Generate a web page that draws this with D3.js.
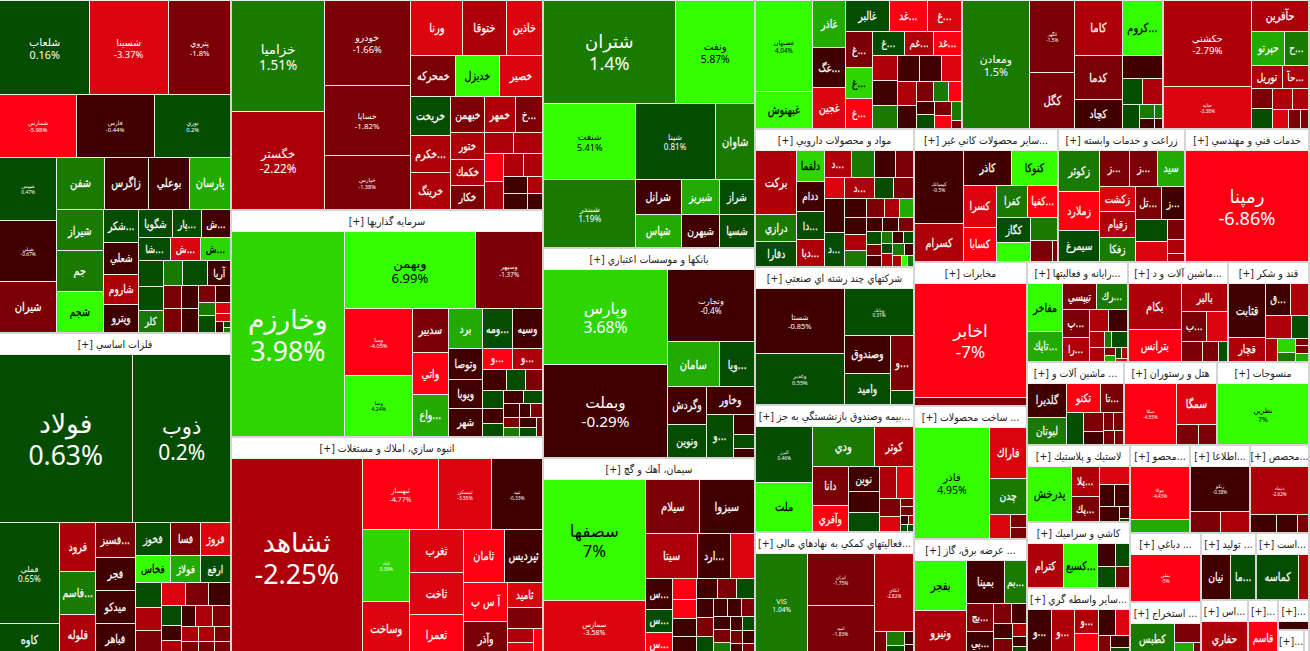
<!DOCTYPE html>
<html lang="fa">
<head>
<meta charset="utf-8">
<title>نقشه بازار</title>
<script src="https://cdn.jsdelivr.net/npm/d3@7/dist/d3.min.js"></script>
<style>
  html, body { margin: 0; padding: 0; width: 1310px; height: 651px; overflow: hidden; background: #d4d4d4; }
  svg { display: block; position: absolute; left: -1px; top: -21px; }
  text { font-family: "DejaVu Sans", sans-serif; }
  text.pct { font-family: "Noto Sans", "DejaVu Sans", sans-serif; }
</style>
</head>
<body>
<script>
// Market map of the exchange: one block per industry, one tile per symbol.
// Tile area follows market weight, tile colour follows the daily change in percent.

const chemNames = ['شلعاب','شسينا','پتروي','شمارس','فارس','نوري','شيپس','شپلي','شيران','شفن','زاگرس','بوعلي','پارسان','شيراز','جم','شجم','شكر...','شعلي','شاروم','ويترو','شگويا','پار...','ش...','شا...','ش...','ش...','','','كلر','','','آريا'];
const chemChanges = [0.16,-3.37,-1.8,-5.98,-0.44,0.2,0.47,-0.67,-1.5,1.5,-0.5,-0.5,2.5,1.5,1.5,4.5,0.5,-0.5,-2.5,-0.5,0.5,0.5,-0.5,0.5,-3.5,3.5,0.5,0.5,1.5,1.5,0.5,-0.5,-1.5,-1.5,-0.5,-0.5,-1.5,-0.5,1.5,0.5,-3.5,-3.5,-0.5,0.5,1.5];
const chemCaps = [8460,7332,5828,4851,4851,4788,3534,3477,2907,2448,2193,2091,2091,1932,1886,1886,1190,1120,1050,980,952,812,812,736,690,690,624,576,528,480,600,576,432,432,408,408,272,256,224,272,160,128,80,40,40];

const metalNames = ['فولاد','ذوب','فملي','كاوه','فرود','فاسم...','فلوله','فسبز...','فجر','ميدكو','فباهر','فخوز','فسا','فروژ','فخاس','فولاژ','ارفع'];
const metalChanges = [0.63,0.2,0.65,0.5,-2.5,1.5,-2.5,-1.5,-0.5,-0.5,-0.5,0.5,-1.5,-3.5,4.5,2.5,0.5,0.5,-2.5,-1.5,-3.5,-1.5,-0.5,0.5,-0.5,-2.5,-0.5,-2.5,-1.5,-2.5,-1.5,-2.5,-1.5,-1.5,-1.5];
const metalCaps = [22000,16350,6000,1900,1770,1560,1490,1404,1287,1287,1250,1155,1000,1000,910,806,780,675,600,650,552,528,506,396,288,288,288,374,374,240,240,225,225,225,225];

const autoNames = ['خزاميا','خگستر','خودرو','خساپا','خپارس','ورنا','ختوقا','خاذين','خمحركه','خديزل','خصير','خريخت','خكرم...','خرينگ','خبهمن','خمهر','خ...','ختور','خكمك','خكار'];
const autoChanges = [1.51,-2.22,-1.66,-1.82,-1.38,-3.5,-2.5,-3.5,-1.5,4.5,-3.5,0.5,-2.5,-2.5,-1.5,-2.5,-1.5,-2.5,-2.5,-1.5,-2.5,-2.5,-4.5,-2.5,-2.5,-2.5,-0.5,-0.5,-2.5,-0.5];
const autoCaps = [10323,9114,7225,5950,4590,2915,2420,1980,1840,1760,1720,1560,1480,1480,1260,1116,972,918,884,800,600,580,551,551,456,432,408,384,255,240];

const investNames = ['وخارزم','وبهمن','وسپهر','وسا','وصا','سدبير','واتي','واع...','برد','ومه...','وسپه','وتوصا','ويوبا','شهر','و...','و...'];
const investChanges = [3.98,6.99,-1.37,-4.05,4.24,-1.5,-4.5,2.5,2.5,0.5,-0.5,-0.5,-0.5,-0.5,-4.5,-2.5,-0.5,0.5,-1.5,0.5,-0.5,0.5,-0.5,0.5,-0.5,-1.5,1.5,-0.5,-1.5,-0.5,0.5,-1.5];
const investCaps = [22755,9900,5100,4554,4092,1540,1505,1470,1360,1200,1200,1020,986,952,594,594,486,399,361,380,308,280,252,234,216,154,143,154,182,156,154,110];

const buildNames = ['ثشاهد','ثبهساز','ثمسكن','ثنيد','ثاباد','وساخت','ثغرب','ثاخت','ثعمرا','ثامان','ثپرديس','آ س پ','وآذر','ثاميد'];
const buildChanges = [-2.25,-4.77,-3.55,-0.33,3.39,-3.5,-3.5,-3.5,-4.5,-4.5,-0.5,-4.5,-1.5,-3.5,-1.5,-2.5,-3.5,-4.5];
const buildCaps = [25542,5396,3763,3621,3384,2538,2268,2268,2200,2120,2000,1716,1496,864,720,351,330,242];

const oilNames = ['شتران','ونفت','شنفت','شبندر','شپنا','شاوان','شرانل','شپاس','شبريز','شبهرن','شراز','شسپا'];
const oilChanges = [1.4,5.87,5.41,1.19,0.81,1.5,-0.5,2.5,2.5,-0.5,0.5,0.5];
const oilCaps = [13362,8058,6992,6164,5925,2950,1575,1485,1330,1254,1200,1150];

const bankNames = ['وپارس','وبملت','وتجارت','سامان','ويا...','وگردش','ونوين','وخاور','و...'];
const bankChanges = [3.68,-0.29,-0.4,2.5,0.5,-0.5,0.5,-0.5,0.5,-0.5,0.5,-0.5];
const bankCaps = [11685,11400,6160,2346,1610,1443,1287,1296,1144,418,286,198];

const cementNames = ['سصفها','سمازس','سيلام','سبزوا','سيتا','ارد...','','س...','س...','س...'];
const cementChanges = [7,-3.58,-1.5,-0.5,-2.5,-0.5,-3.5,-0.5,0.5,-4.5,-4.5,-4.5,-0.5,-0.5,-0.5,-1.5,0.5,-0.5,-1.5,0.5,-0.5,-0.5,-1.5,-0.5,-1.5,1.5,-0.5,0.5,-1.5,-0.5,-0.5,-1.5];
const cementCaps = [12078,5445,2912,2900,2288,1452,1056,832,598,624,483,437,437,437,399,380,342,320,320,320,252,252,234,210,210,210,168,168,156,156,140,140];

const foodNames = ['غصبهان','غبهنوش','غاذر','غگ...','غجين','غالبر','غد...','غ...','غ...','غ...','غ...','غ...','غم...','غد...'];
const foodChanges = [4.04,4.5,2.5,-0.5,-3.5,0.5,-4.5,-3.5,-1.5,3.5,-4.5,0.5,-2.5,-4.5,-2.5,-0.5,1.5,-0.5,-0.5,-3.5,-2.5,-0.5,-1.5,1.5,-4.5,-0.5,0.5,-1.5,-4.5,1.5,-1.5];
const foodCaps = [5005,2035,1518,1320,1320,1330,1140,1026,950,806,780,728,667,638,609,609,560,540,540,506,437,414,342,288,266,224,234,234,209,192,80];

const miningNames = ['ومعادن','كگهر','كگل','كاما','كروم...','كدما','كچاد'];
const miningChanges = [1.5,-1.5,-1.5,-2.5,4.5,-1.5,-0.5,-0.5,0.5,-2.5,0.5,1.5,1.5,-0.5,-0.5];
const miningCaps = [8385,3240,2520,2592,2160,2070,1334,902,520,520,400,208,104,160,80];

const transportNames = ['حكشتي','حتايد','حآفرين','حپرتو','ح...','توريل','حآ...'];
const transportChanges = [-2.79,-3.38,-2.5,2.5,1.5,-2.5,-2.5,-1.5,0.5,-2.5,-2.5,-3.5,-1.5,-1.5];
const transportCaps = [7482,3612,1740,1122,792,713,598,420,420,400,340,285,228,152];

const pharmaNames = ['بركت','درازي','دفارا','دلقما','ددام','دا...','دبا...','د...','','','','','','د...','د...'];
const pharmaChanges = [-2.5,1.5,0.5,3.5,-0.5,0.5,-2.5,-2.5,1.5,-0.5,-1.5,-3.5,-0.5,0.5,-2.5,0.5,-1.5,-0.5,-0.5,-2.5,1.5,-1.5,-2.5,2.5,-0.5,-0.5,-1.5,0.5,-1.5,-0.5,1.5,-0.5,0.5,0.5,-2.5,1.5,-0.5,-2.5,4.5,1.5];
const pharmaCaps = [2418,1053,936,780,754,728,676,667,598,506,460,368,609,609,580,378,378,378,336,336,320,315,272,240,208,195,182,182,156,156,130,130,110,100,130,130,90,90,60,60];

const multiNames = ['شستا','وغدير','وبانك','وصندوق','واميد','و...'];
const multiChanges = [-0.85,0.55,0.31,-0.5,0.5,-1.5,0.5];
const multiCaps = [5568,4437,3174,1665,1395,1242,322];

const insureNames = ['البرز','ملت','ودي','كوثر','دانا','وآفري','نوين'];
const insureChanges = [0.46,4.5,1.5,-2.5,-1.5,-4.5,-0.5,-0.5,0.5,-2.5,-3.5,-1.5,-3.5,-1.5,-1.5,-0.5,-2.5,0.5,0.5];
const insureCaps = [3025,2640,2318,1482,1292,884,720,600,540,522,493,378,294,104,104,70,50,40,40];

const financeNames = ['VIS','ايران','اميد','اتكاي'];
const financeChanges = [1.04,-1.75,-1.83,-2.82,-1.5,1.5,0.5,-0.5,-0.5];
const financeCaps = [5253,3366,3300,3003,286,224,176,120,100];

const mineralNames = ['كيمياتك','كسرام','كاذر','كنوكا','كسرا','كسابا','كفرا','كفپا...','كگاز'];
const mineralChanges = [-0.5,-2.5,-0.5,4.5,-3.5,-4.5,1.5,-4.5,0.5,4.5,1.5,-1.5,-1.5];
const mineralCaps = [3337,1739,1584,1518,1271,1023,930,900,792,627,567,420,105];

const agriNames = ['زكوثر','زملارد','سيمرغ','ز...','ز...','سيد','زكشت','زقيام','زفكا','تل...','ز...'];
const agriChanges = [1.5,-4.5,0.5,-1.5,-1.5,2.5,-3.5,-2.5,1.5,-1.5,-0.5,0.5,-3.5,-1.5,-2.5,-2.5];
const agriCaps = [1600,1520,1200,986,952,900,875,875,805,800,736,672,608,320,208,128];

const techNames = ['رمپنا'];
const techChanges = [-6.86];
const techCaps = [13068];

const telecomNames = ['اخابر'];
const telecomChanges = [-7,-1.5];
const telecomCaps = [12432,888];

const productNames = ['فاذر','فاراك','چدن'];
const productChanges = [4.95,-3.5,1.5,-3.5,-1.5,-1.5];
const productCaps = [8030,1850,1295,483,192,176];

const powerNames = ['بفجر','ونيرو','بمپنا','بم...','بج...','بي...'];
const powerChanges = [4.5,-2.5,-0.5,1.5,-1.5,-0.5,-1.5,-0.5,-0.5,-1.5,-2.5,-0.5,0.5];
const powerCaps = [2450,2250,1558,902,700,625,340,272,272,300,165,135,120];

const computerNames = ['مفاخر','تاپك...','تيپسي','رك...','پ...','را...'];
const computerChanges = [4.5,2.5,-1.5,1.5,-1.5,-2.5,-2.5,-0.5,-2.5,-2.5,1.5,0.5,-1.5,2.5,0.5,-2.5,-3.5];
const computerCaps = [1632,1020,850,775,700,600,400,380,240,195,120,256,80,72,64,60,30];

const electricNames = ['بكام','بترانس','بالبر','ب...'];
const electricChanges = [-2.5,-4.5,-2.5,-1.5,-3.5,-1.5,-1.5,0.5];
const electricCaps = [2295,1632,1260,720,600,400,300,180];

const sugarNames = ['قثابت','قچار','ق...'];
const sugarChanges = [-0.5,-2.5,-0.5,-2.5,-2.5,0.5,-2.5,3.5,1.5,-1.5,-1.5,2.5];
const sugarCaps = [1890,840,744,527,550,374,264,238,153,96,96,96];

const machineNames = ['گلديرا','لبوتان','تكنو','تا...'];
const machineChanges = [-0.5,1.5,-4.5,-1.5,0.5,-1.5,-0.5,-1.5,-1.5,-1.5,-1.5];
const machineCaps = [1224,972,918,621,494,338,240,180,160,144,112];

const hotelNames = ['سكا','سمگا'];
const hotelChanges = [-4.55,-3.5,-1.5,-1.5];
const hotelCaps = [3100,1600,420,360];

const textileNames = ['نطرين'];
const textileChanges = [7];
const textileCaps = [5612];

const rubberNames = ['پدرخش','پلا...','پك...'];
const rubberChanges = [4.5,-2.5,-1.5,-3.5,-0.5,-0.5,-0.5,-0.5,0.5];
const rubberCaps = [2226,754,624,496,315,300,266,110,30];

const tileWareNames = ['كترام','كسبع...'];
const tileWareChanges = [-2.5,4.5,-0.5,0.5,0.5,-1.5];
const tileWareCaps = [1496,1452,400,304,350,266];

const brokerNames = ['و...','و...','و...'];
const brokerChanges = [-0.5,-2.5,-2.5,-4.5,-0.5,-3.5,-1.5,-0.5,0.5];
const brokerCaps = [1058,966,552,506,400,350,231,210,147];

const woodNames = ['چوكا'];
const woodChanges = [-4.43,2.5];
const woodCaps = [3068,767];

const infoNames = ['رتكو'];
const infoChanges = [-0.38,-1.5,-2.5];
const infoCaps = [2494,609,588];

const specialNames = ['دتماد'];
const specialChanges = [-2.62,-0.5,-0.5,-1.5];
const specialCaps = [2530,432,342,180];

const leatherNames = ['بملي'];
const leatherChanges = [-5];
const leatherCaps = [2992];

const quarryNames = ['كطبس'];
const quarryChanges = [1.5,-1.5,2.5,-1.5];
const quarryCaps = [1344,475,234,91];

const makerNames = ['نيان','ما...'];
const makerChanges = [-0.5,0.5];
const makerCaps = [1204,1075];

const estateNames = ['كماسه'];
const estateChanges = [0.5,-2.5];
const estateCaps = [1677,387];

const drillNames = ['حفاري'];
const drillChanges = [-2.5];
const drillCaps = [1452];

const copperNames = ['قاسم'];
const copperChanges = [-4.5];
const copperCaps = [891];

const sectorTitles = [
  'محصولات شيميايي [+]','فلزات اساسي [+]','خودرو و ساخت قطعات [+]','سرمايه گذاريها [+]','انبوه سازي، املاك و مستغلات [+]',
  'فراورده هاي نفتي [+]','بانكها و موسسات اعتباري [+]','سيمان، آهك و گچ [+]','محصولات غذايي [+]','استخراج كانه هاي فلزي [+]',
  'حمل و نقل [+]','مواد و محصولات دارويي [+]','شركتهاي چند رشته اي صنعتي [+]','...بيمه وصندوق بازنشستگي به جز [+]','...فعاليتهاي كمكي به نهادهاي مالي [+]',
  '...ساير محصولات كاني غير [+]','زراعت و خدمات وابسته [+]','خدمات فني و مهندسي [+]','مخابرات [+]','... ساخت محصولات [+]',
  '... عرضه برق، گاز [+]','...رايانه و فعاليتها [+]','...ماشين آلات و د [+]','قند و شكر [+]','... ماشين آلات و [+]',
  'هتل و رستوران [+]','منسوجات [+]','لاستيك و پلاستيك [+]','كاشي و سراميك [+]','...ساير واسطه گري [+]',
  '...محصو [+]','...اطلاعا [+]','...محصص [+]','... دباغي [+]','... استخراج [+]',
  '... توليد [+]','...است [+]','...اس [+]','...[+]','...[+]','...[+]',''
];
const sectorCaps = [81896,74936,71916,70668,68328,56922,44414,41976,31050,30075,21900,21873,21715,20130,19654,19008,16764,16368,16329,14973,13221,10100,10000,8100,8051,7719,7636,7931,6695,7004,5280,5280,5192,4899,3834,3685,3551,2632,1680,930,676,130];
const sectorNames = [chemNames,metalNames,autoNames,investNames,buildNames,oilNames,bankNames,cementNames,foodNames,miningNames,transportNames,pharmaNames,multiNames,insureNames,financeNames,mineralNames,agriNames,techNames,telecomNames,productNames,powerNames,computerNames,electricNames,sugarNames,machineNames,hotelNames,textileNames,rubberNames,tileWareNames,brokerNames,woodNames,infoNames,specialNames,leatherNames,quarryNames,makerNames,estateNames,drillNames,copperNames,[],[],[]];
const sectorChanges = [chemChanges,metalChanges,autoChanges,investChanges,buildChanges,oilChanges,bankChanges,cementChanges,foodChanges,miningChanges,transportChanges,pharmaChanges,multiChanges,insureChanges,financeChanges,mineralChanges,agriChanges,techChanges,telecomChanges,productChanges,powerChanges,computerChanges,electricChanges,sugarChanges,machineChanges,hotelChanges,textileChanges,rubberChanges,tileWareChanges,brokerChanges,woodChanges,infoChanges,specialChanges,leatherChanges,quarryChanges,makerChanges,estateChanges,drillChanges,copperChanges,[-0.5],[0.5],[0.5]];
const sectorTileCaps = [chemCaps,metalCaps,autoCaps,investCaps,buildCaps,oilCaps,bankCaps,cementCaps,foodCaps,miningCaps,transportCaps,pharmaCaps,multiCaps,insureCaps,financeCaps,mineralCaps,agriCaps,techCaps,telecomCaps,productCaps,powerCaps,computerCaps,electricCaps,sugarCaps,machineCaps,hotelCaps,textileCaps,rubberCaps,tileWareCaps,brokerCaps,woodCaps,infoCaps,specialCaps,leatherCaps,quarryCaps,makerCaps,estateCaps,drillCaps,copperCaps,[174],[100],[30]];

const mapWidth = 1310, mapHeight = 677, headerHeight = 21, scrolledBy = 21;
const tile = d3.treemapSquarify.ratio(1);

const shade = d3.scaleThreshold()
  .domain([-4,-3,-2,-1,0,1,2,3,4])
  .range(['#ff0012','#db0510','#ad0008','#7a0005','#400000','#044d00','#1a7a00','#22aa00','#2ed600','#33ff00']);

// Symbols big enough to state their change use this size, growing with the tile.
const statedFont = d3.scaleLinear()
  .domain([3000,4000,5000,6000,8000,10000,13000,22000,26000])
  .range([4.6,5,6,8,10,13,17.5,26.5,27])
  .clamp(true);
// Smaller tiles only carry the symbol, in a slightly condensed setting.
const nameFont = d3.scaleLinear().domain([600,2500]).range([11,12.5]).clamp(true);
const statedWeight = 3480;

const svg = d3.select('body').append('svg').attr('width', mapWidth + 1).attr('height', mapHeight + 1);

const rootNode = d3.treemap().tile(tile).size([mapWidth, mapHeight])(
  d3.hierarchy({ children: sectorTitles.map((title, i) => ({ title, cap: sectorCaps[i], index: i })) }).sum(d => d.cap || 0)
);

const sectorGroups = svg.selectAll('g.sector').data(rootNode.children).join('g').attr('class', 'sector')
  .attr('transform', d => `translate(${Math.round(d.x0) + 1},${Math.round(d.y0) + 1})`);

sectorGroups.each(function (sector, s) {
  const g = d3.select(this);
  const w = Math.round(sector.x1) - Math.round(sector.x0) - 2;
  const h = Math.round(sector.y1) - Math.round(sector.y0) - 2;
  const contentH = Math.max(h - headerHeight, 1);

  g.append('clipPath').attr('id', `clip-${s}`).append('rect').attr('width', w).attr('height', h);
  g.attr('clip-path', `url(#clip-${s})`);
  g.append('rect').attr('width', w).attr('height', h).attr('fill', '#ececec');
  g.append('rect').attr('width', w).attr('height', headerHeight - 1).attr('fill', '#fff');
  // The top row's headers sit above the visible part of the page.
  if (sector.y0 >= scrolledBy && sector.data.title) {
    g.append('text')
      .attr('transform', `translate(${w / 2},${headerHeight / 2 + 3}) scale(0.9,1)`)
      .attr('text-anchor', 'middle')
      .attr('direction', 'rtl')
      .attr('font-size', 10.5)
      .attr('fill', '#222')
      .text(sector.data.title);
  }

  const i = sector.data.index;
  const stocks = sectorTileCaps[i].map((cap, k) => ({ cap, name: sectorNames[i][k] || '', change: sectorChanges[i][k] }));
  const layout = d3.treemap().tile(tile).size([w + 1, contentH + 1])(
    d3.hierarchy({ children: stocks }).sum(d => d.cap || 0)
  );
  const density = sectorCaps[i] / ((w + 1) * (contentH + 1));

  const cells = g.selectAll('g.stock').data(layout.children).join('g').attr('class', 'stock')
    .attr('transform', d => `translate(${Math.round(d.x0)},${Math.round(d.y0) + headerHeight})`);

  cells.append('rect')
    .attr('width', d => Math.max(Math.round(d.x1) - Math.round(d.x0) - 1, 0))
    .attr('height', d => Math.max(Math.round(d.y1) - Math.round(d.y0) - 1, 0))
    .attr('fill', d => shade(d.data.change));

  cells.each(function (d) {
    if (!d.data.name) return;
    const cell = d3.select(this);
    const cw = d.x1 - d.x0, ch = d.y1 - d.y0, area = cw * ch;
    const stated = area * density >= statedWeight;
    const ink = (d.data.change >= 4 || (d.data.change >= 3 && !stated)) ? '#000' : '#fff';
    if (stated) {
      const fs = statedFont(area);
      cell.append('text').attr('x', cw / 2 - 0.5).attr('y', ch / 2 - fs * 0.22)
        .attr('text-anchor', 'middle').attr('font-size', fs).attr('fill', ink).text(d.data.name);
      cell.append('text').attr('class', 'pct').attr('x', cw / 2 - 0.5).attr('y', ch / 2 + fs * 1)
        .attr('text-anchor', 'middle').attr('font-size', fs).attr('fill', ink).text(`${d.data.change}%`);
    } else {
      const fs = nameFont(area);
      cell.append('text')
        .attr('transform', `translate(${cw / 2 - 0.5},${ch / 2 + fs * 0.3}) scale(0.8,1)`)
        .attr('text-anchor', 'middle').attr('font-size', fs).attr('fill', ink)
        .attr('stroke', ink).attr('stroke-width', 0.25)
        .text(d.data.name);
    }
  });
});
</script>
</body>
</html>
